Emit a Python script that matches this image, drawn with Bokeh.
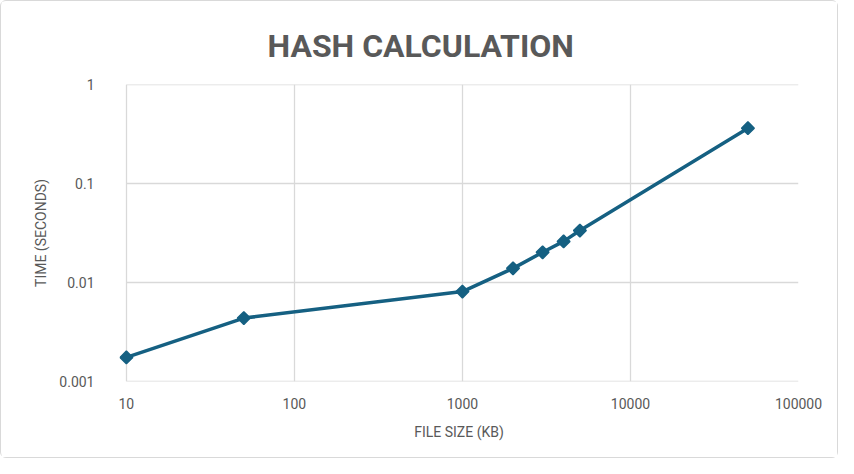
import math
from bokeh.plotting import figure
from bokeh.models import FixedTicker, CustomJSTickFormatter, ColumnDataSource
from bokeh.embed import file_html
from bokeh.resources import INLINE

# Data
file_size_kb = [10, 50, 1000, 2000, 3000, 4000, 5000, 50000]
time_seconds = [0.00175, 0.00437, 0.0081, 0.0139, 0.0202, 0.0260, 0.0335, 0.362]
x_ticks = [10, 100, 1000, 10000, 100000]
y_ticks = [0.001, 0.01, 0.1, 1]
title_text = "HASH CALCULATION"

COLOR = "#156082"
TEXT = "#595959"
GRID = "#d9d9d9"
FONT = "Roboto"

src = ColumnDataSource(dict(x=file_size_kb, y=time_seconds))
grid_src = ColumnDataSource(dict(x0=[x_ticks[0]] * len(y_ticks),
                                 x1=[x_ticks[-1]] * len(y_ticks),
                                 y=y_ticks))

W, H = 838, 458
FRAME_L, FRAME_R, FRAME_T, FRAME_B = 125, 797, 83, 380
x_lo = 9.1  # small pad so the first marker is not clipped
px_per_decade = 168
pad_px = round(math.log10(x_ticks[0] / x_lo) * px_per_decade)
p = figure(width=W, height=H, x_axis_type="log", y_axis_type="log",
           x_range=(x_lo, x_ticks[-1]), y_range=(y_ticks[0], y_ticks[-1]),
           output_backend="svg", toolbar_location=None,
           min_border_left=FRAME_L - pad_px, min_border_right=W - FRAME_R,
           min_border_top=FRAME_T, min_border_bottom=H - FRAME_B)

p.title.text = title_text
p.title.align = "left"
p.title.text_font = FONT
p.title.text_font_size = "32px"
p.title.text_font_style = "bold"
p.title.text_color = TEXT
p.title.offset = 141 + pad_px
p.title.standoff = 40

# horizontal gridlines, spanning exactly the decade range
p.segment(x0="x0", x1="x1", y0="y", y1="y", source=grid_src,
          line_color=GRID, line_width=1.3)

p.line("x", "y", source=src, line_color=COLOR, line_width=3.5)
p.scatter("x", "y", source=src, marker="square", size=9, angle=math.pi / 4,
          fill_color=COLOR, line_color=COLOR, line_width=1.5)

fmt = CustomJSTickFormatter(code="return tick.toString();")
p.xaxis.ticker = FixedTicker(ticks=x_ticks, minor_ticks=[])
p.yaxis.ticker = FixedTicker(ticks=y_ticks, minor_ticks=[])
p.xaxis.formatter = fmt
p.yaxis.formatter = fmt

for ax in (p.xaxis, p.yaxis):
    ax.axis_line_color = None
    ax.major_tick_line_color = None
    ax.minor_tick_line_color = None
    ax.major_tick_out = 0
    ax.major_tick_in = 0
    ax.major_label_text_font = FONT
    ax.major_label_text_font_size = "14px"
    ax.major_label_text_color = TEXT
    ax.axis_label_text_font = FONT
    ax.axis_label_text_font_size = "14px"
    ax.axis_label_text_font_style = "normal"
    ax.axis_label_text_color = TEXT

p.xaxis.axis_label = "FILE SIZE (KB)"
p.yaxis.axis_label = "TIME (SECONDS)"
p.xaxis.major_label_standoff = 16
p.yaxis.major_label_standoff = 18 + pad_px
p.xaxis.axis_label_standoff = 12
p.yaxis.axis_label_standoff = 7

p.xgrid.grid_line_color = GRID
p.xgrid.grid_line_width = 1.3
p.ygrid.grid_line_color = None
p.outline_line_color = None
p.background_fill_color = "white"
p.border_fill_color = "white"
p.styles = {"border": "1px solid #d9d9d9", "border-radius": "6px"}

open("out.html", "w").write(file_html(p, INLINE))
